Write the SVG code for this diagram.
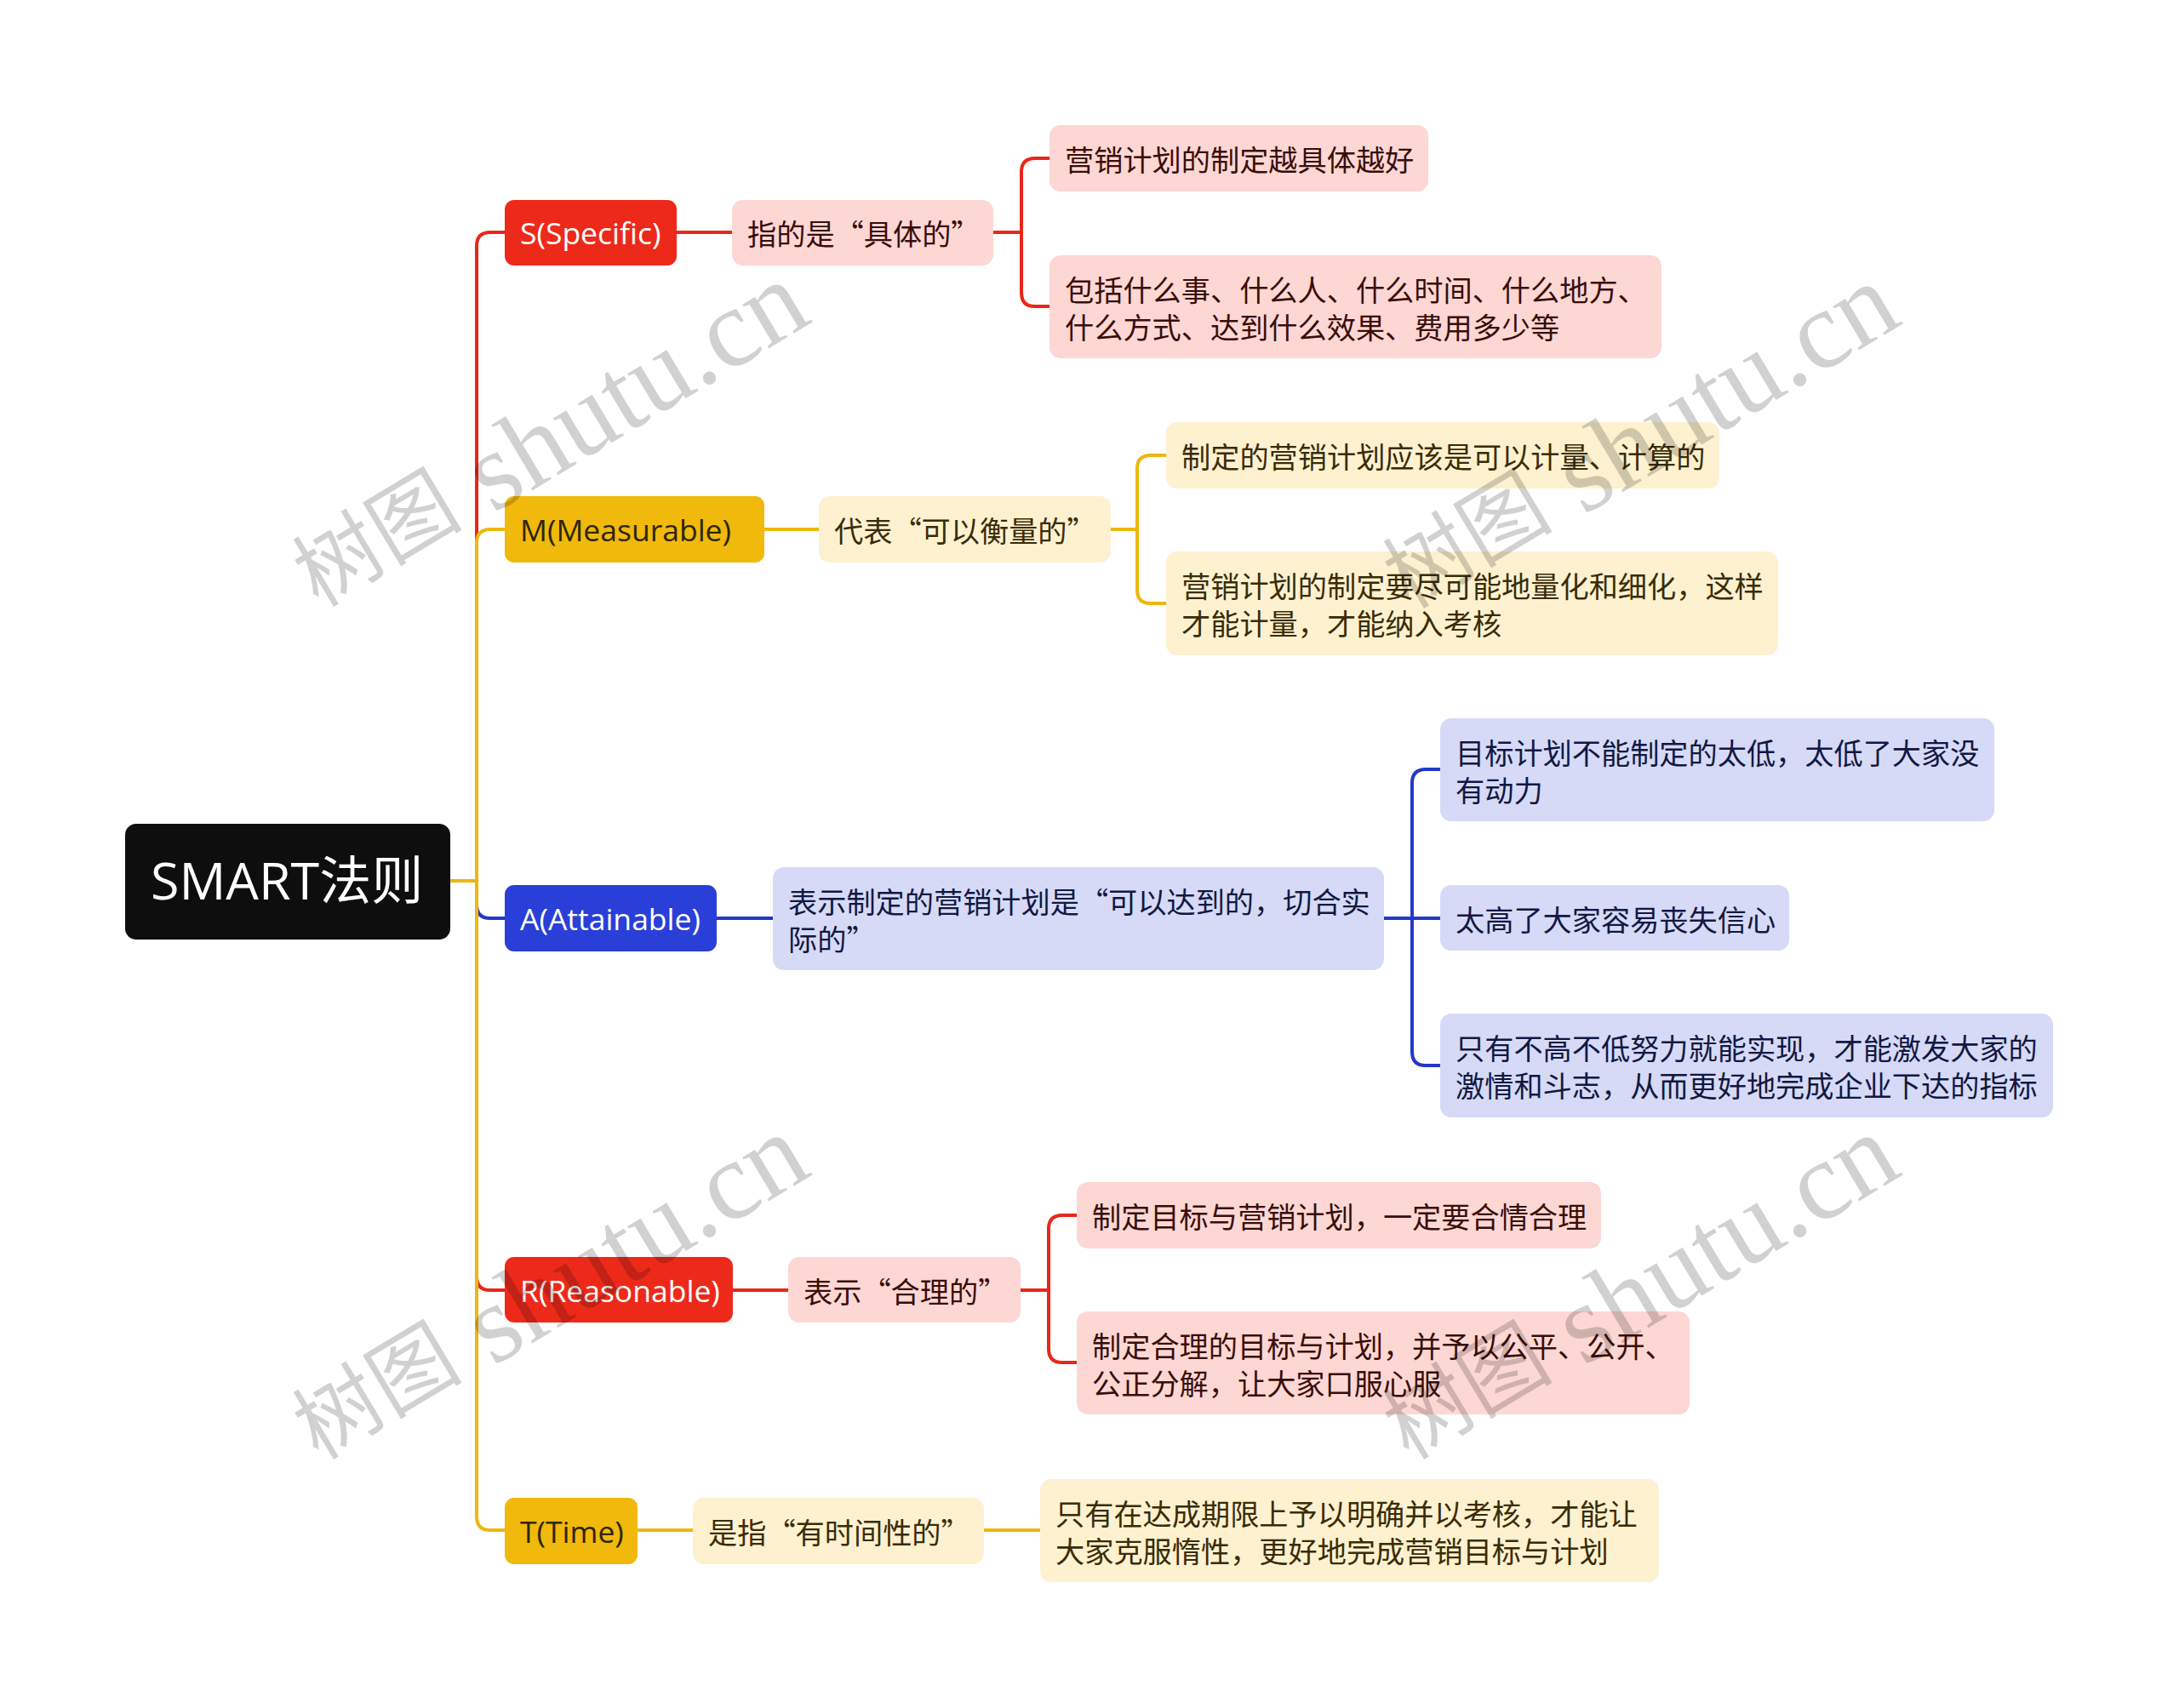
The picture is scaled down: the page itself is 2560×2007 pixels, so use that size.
<svg xmlns="http://www.w3.org/2000/svg" width="2560" height="2007" viewBox="0 0 2560 2007">
<style>
.t{font-family:"Noto Sans CJK SC","Open Sans",sans-serif;font-size:34.2px;dominant-baseline:central}
.l1{font-family:"Open Sans","Noto Sans CJK SC",sans-serif;font-size:35.5px;dominant-baseline:central}
.w{fill:#ffffff}
.red{fill:#ED2A1A}
.yel{fill:#F0B90B}
.blu{fill:#2A3FD8}
.pk{fill:#FCD7D4}
.cr{fill:#FDF1D0}
.lv{fill:#D6DAF6}
.tpk{fill:#3A0D08}
.tcr{fill:#3A2C05}
.tlv{fill:#121842}
.tyl{fill:#2E2608}
.cn{fill:none;stroke-width:4;stroke-linecap:round;stroke-linejoin:round}
.cr-s{stroke:#E8271A}
.cy-s{stroke:#EDB70F}
.cb-s{stroke:#2338C8}
.wm{font-family:"Liberation Serif","Noto Sans CJK SC",serif;fill:#000000;fill-opacity:0.18;text-anchor:middle;dominant-baseline:central}
.wc{font-size:100px}
.wl{font-size:131px}
</style>
<rect width="2560" height="2007" fill="#ffffff"/>
<g id="connectors">
<path class="cn cr-s" d="M529,1035 H560 V289 Q560,273 576,273 H593"/>
<path class="cn cr-s" d="M529,1035 H560 V1500 Q560,1516 576,1516 H593"/>
<path class="cn cb-s" d="M529,1035 H560 V1063 Q560,1079 576,1079 H593"/>
<path class="cn cy-s" d="M529,1035 H560 V638 Q560,622 576,622 H593"/>
<path class="cn cy-s" d="M529,1035 H560 V1782 Q560,1798 576,1798 H593"/>
<path class="cn cr-s" d="M795,273 H860"/>
<path class="cn cy-s" d="M898,622 H962"/>
<path class="cn cb-s" d="M842,1079 H908"/>
<path class="cn cr-s" d="M861,1516 H926"/>
<path class="cn cy-s" d="M749,1798 H814"/>
<path class="cn cr-s" d="M1167,273 H1200 V202 Q1200,186 1216,186 H1233"/>
<path class="cn cr-s" d="M1167,273 H1200 V344 Q1200,360 1216,360 H1233"/>
<path class="cn cy-s" d="M1305,622 H1336 V551 Q1336,535 1352,535 H1370"/>
<path class="cn cy-s" d="M1305,622 H1336 V693 Q1336,709 1352,709 H1370"/>
<path class="cn cb-s" d="M1626,1079 H1659 V920 Q1659,904 1675,904 H1692"/>
<path class="cn cb-s" d="M1626,1079 H1692"/>
<path class="cn cb-s" d="M1626,1079 H1659 V1236 Q1659,1252 1675,1252 H1692"/>
<path class="cn cr-s" d="M1199,1516 H1232 V1444 Q1232,1428 1248,1428 H1265"/>
<path class="cn cr-s" d="M1199,1516 H1232 V1585 Q1232,1601 1248,1601 H1265"/>
<path class="cn cy-s" d="M1156,1798 H1222"/>
</g>
<g id="root">
<rect x="147" y="968" width="382" height="136" rx="13" fill="#0E0E0E"/>
<text x="177" y="1033" class="l1 w" style="font-size:61px">SMART法则</text>
</g>
<g id="n-s">
<rect x="593" y="235" width="202" height="77" rx="11" class="red"/>
<text x="611" y="273" class="l1 w">S(Specific)</text>
</g>
<g id="n-m">
<rect x="593" y="583" width="305" height="78" rx="11" class="yel"/>
<text x="611" y="622" class="l1 tyl">M(Measurable)</text>
</g>
<g id="n-a">
<rect x="593" y="1040" width="249" height="78" rx="11" class="blu"/>
<text x="611" y="1079" class="l1 w">A(Attainable)</text>
</g>
<g id="n-r">
<rect x="593" y="1477" width="268" height="77" rx="11" class="red"/>
<text x="611" y="1516" class="l1 w">R(Reasonable)</text>
</g>
<g id="n-t">
<rect x="593" y="1760" width="156" height="78" rx="11" class="yel"/>
<text x="611" y="1799" class="l1 tyl">T(Time)</text>
</g>
<g id="s2">
<rect x="860" y="235" width="307" height="77" rx="13" class="pk"/>
<text x="878" y="273" class="t tpk">指的是“具体的”</text>
</g>
<g id="m2">
<rect x="962" y="583" width="343" height="78" rx="13" class="cr"/>
<text x="980" y="622" class="t tcr">代表“可以衡量的”</text>
</g>
<g id="a2">
<rect x="908" y="1019" width="718" height="121" rx="13" class="lv"/>
<text x="926" y="1058" class="t tlv">表示制定的营销计划是“可以达到的，切合实</text>
<text x="926" y="1102" class="t tlv">际的”</text>
</g>
<g id="r2">
<rect x="926" y="1477" width="273" height="77" rx="13" class="pk"/>
<text x="944" y="1516" class="t tpk">表示“合理的”</text>
</g>
<g id="t2">
<rect x="814" y="1760" width="342" height="78" rx="13" class="cr"/>
<text x="832" y="1799" class="t tcr">是指“有时间性的”</text>
</g>
<g id="s3a">
<rect x="1233" y="147" width="445" height="78" rx="13" class="pk"/>
<text x="1251" y="186" class="t tpk">营销计划的制定越具体越好</text>
</g>
<g id="s3b">
<rect x="1233" y="300" width="719" height="121" rx="13" class="pk"/>
<text x="1251" y="339" class="t tpk">包括什么事、什么人、什么时间、什么地方、</text>
<text x="1251" y="383" class="t tpk">什么方式、达到什么效果、费用多少等</text>
</g>
<g id="m3a">
<rect x="1370" y="496" width="650" height="78" rx="13" class="cr"/>
<text x="1388" y="535" class="t tcr">制定的营销计划应该是可以计量、计算的</text>
</g>
<g id="m3b">
<rect x="1370" y="648" width="719" height="122" rx="13" class="cr"/>
<text x="1388" y="687" class="t tcr">营销计划的制定要尽可能地量化和细化，这样</text>
<text x="1388" y="731" class="t tcr">才能计量，才能纳入考核</text>
</g>
<g id="a3a">
<rect x="1692" y="844" width="651" height="121" rx="13" class="lv"/>
<text x="1710" y="883" class="t tlv">目标计划不能制定的太低，太低了大家没</text>
<text x="1710" y="927" class="t tlv">有动力</text>
</g>
<g id="a3b">
<rect x="1692" y="1040" width="410" height="77" rx="13" class="lv"/>
<text x="1710" y="1079" class="t tlv">太高了大家容易丧失信心</text>
</g>
<g id="a3c">
<rect x="1692" y="1191" width="720" height="122" rx="13" class="lv"/>
<text x="1710" y="1230" class="t tlv">只有不高不低努力就能实现，才能激发大家的</text>
<text x="1710" y="1274" class="t tlv">激情和斗志，从而更好地完成企业下达的指标</text>
</g>
<g id="r3a">
<rect x="1265" y="1389" width="616" height="78" rx="13" class="pk"/>
<text x="1283" y="1428" class="t tpk">制定目标与营销计划，一定要合情合理</text>
</g>
<g id="r3b">
<rect x="1265" y="1541" width="720" height="121" rx="13" class="pk"/>
<text x="1283" y="1580" class="t tpk">制定合理的目标与计划，并予以公平、公开、</text>
<text x="1283" y="1624" class="t tpk">公正分解，让大家口服心服</text>
</g>
<g id="t3">
<rect x="1222" y="1738" width="727" height="121" rx="13" class="cr"/>
<text x="1240" y="1777" class="t tcr">只有在达成期限上予以明确并以考核，才能让</text>
<text x="1240" y="1821" class="t tcr">大家克服惰性，更好地完成营销目标与计划</text>
</g>
<g id="watermarks">
<text class="wm" transform="translate(645,512) rotate(-31)"><tspan class="wc">树图</tspan><tspan class="wl"> shutu.cn</tspan></text>
<text class="wm" transform="translate(1926,514) rotate(-31)"><tspan class="wc">树图</tspan><tspan class="wl"> shutu.cn</tspan></text>
<text class="wm" transform="translate(645,1514) rotate(-31)"><tspan class="wc">树图</tspan><tspan class="wl"> shutu.cn</tspan></text>
<text class="wm" transform="translate(1926,1514) rotate(-31)"><tspan class="wc">树图</tspan><tspan class="wl"> shutu.cn</tspan></text>
</g>
</svg>
